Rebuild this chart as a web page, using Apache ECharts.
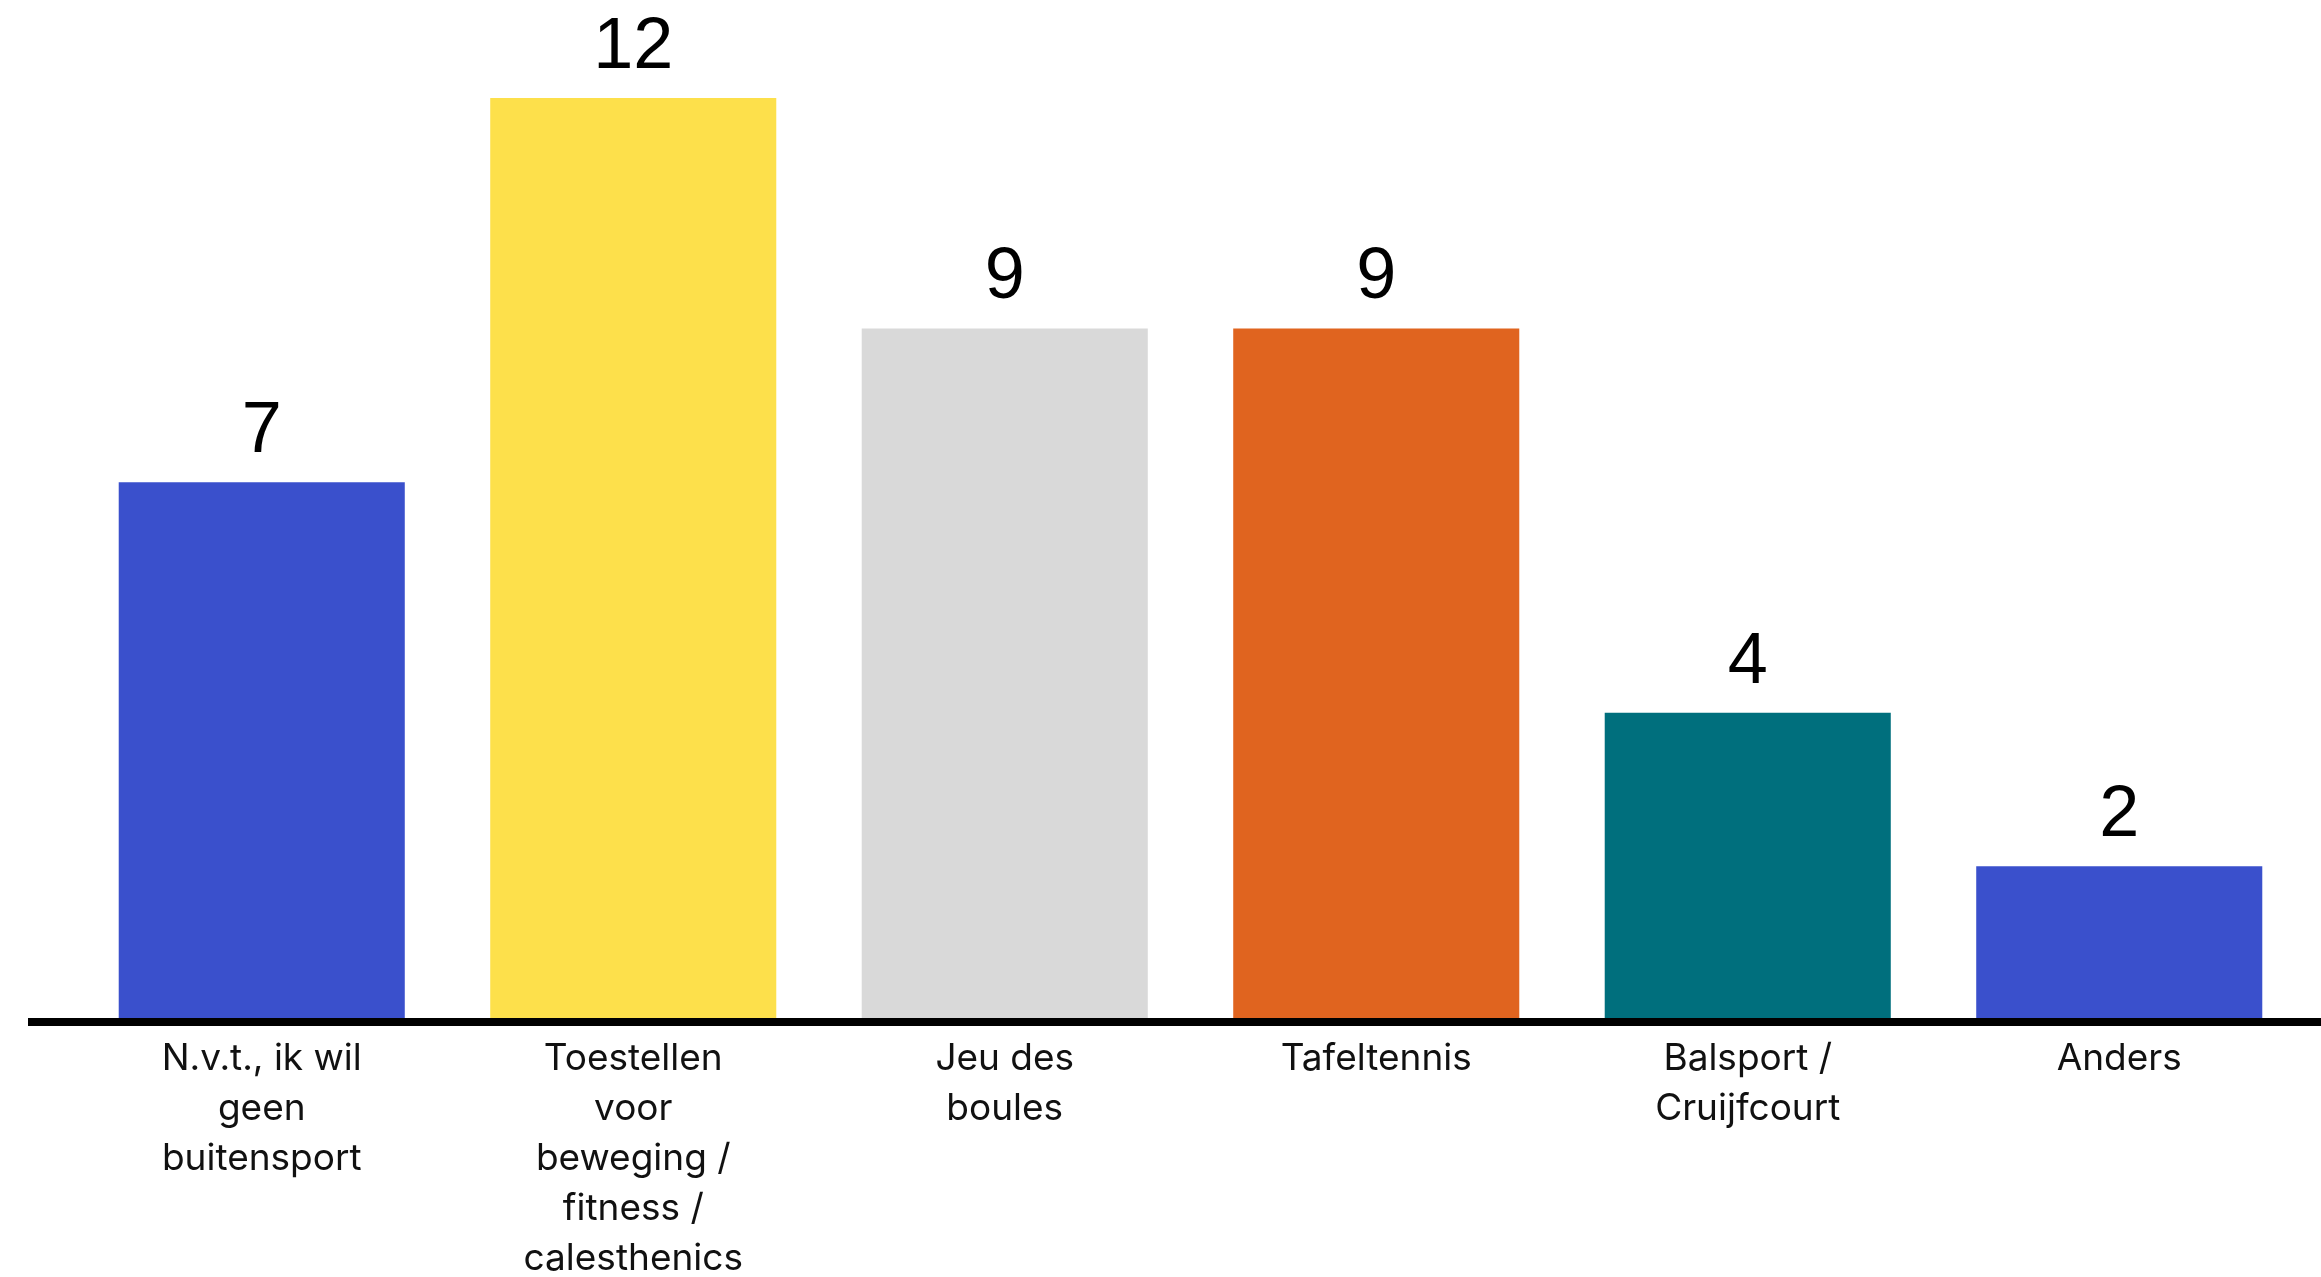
<!DOCTYPE html>
<html>
<head>
<meta charset="utf-8">
<script src="https://cdn.jsdelivr.net/npm/echarts@6/dist/echarts.min.js"></script>
<style>
  html, body { margin: 0; padding: 0; background: #ffffff; }
  #chart { width: 2321px; height: 1277px; }
</style>
</head>
<body>
<div id="chart"></div>
<script>
  const categories = [
    'N.v.t., ik wil\ngeen\nbuitensport',
    'Toestellen\nvoor\nbeweging /\nfitness /\ncalesthenics',
    'Jeu des\nboules',
    'Tafeltennis',
    'Balsport /\nCruijfcourt',
    'Anders'
  ];
  const counts = [7, 12, 9, 9, 4, 2];
  const barColors = ['#3a50cc', '#fde04b', '#d9d9d9', '#e0641f', '#006f7d', '#3a50cc'];

  const chart = echarts.init(document.getElementById('chart'));

  const option = {
    animation: false,
    backgroundColor: '#ffffff',
    grid: {
      left: 76,
      right: 16,
      top: 98,
      bottom: 257,
      outerBoundsMode: 'none'
    },
    xAxis: {
      type: 'category',
      data: categories,
      axisLine: { show: false },
      axisTick: { show: false },
      axisLabel: {
        interval: 0,
        margin: 14,
        color: '#111111',
        fontFamily: 'Inter',
        fontSize: 37,
        lineHeight: 50
      }
    },
    yAxis: {
      type: 'value',
      min: 0,
      max: 12,
      show: false,
      splitLine: { show: false }
    },
    series: [
      {
        type: 'bar',
        barCategoryGap: '23%',
        data: counts.map((v, i) => ({
          value: v,
          itemStyle: { color: barColors[i] }
        })),
        label: {
          show: true,
          position: 'top',
          distance: 14,
          color: '#000000',
          fontFamily: '"Liberation Sans Narrow", "Arial Narrow", "Liberation Sans", sans-serif',
          fontSize: 72
        }
      }
    ]
  };

  chart.setOption(option);

  // baseline runs past the bars on both sides
  const y0 = chart.convertToPixel({ yAxisIndex: 0 }, 0);
  chart.setOption({
    graphic: [
      {
        type: 'line',
        z: 100,
        shape: { x1: 28, y1: y0 + 2, x2: 2321, y2: y0 + 2 },
        style: { stroke: '#000000', lineWidth: 8 }
      }
    ]
  });
</script>
</body>
</html>
